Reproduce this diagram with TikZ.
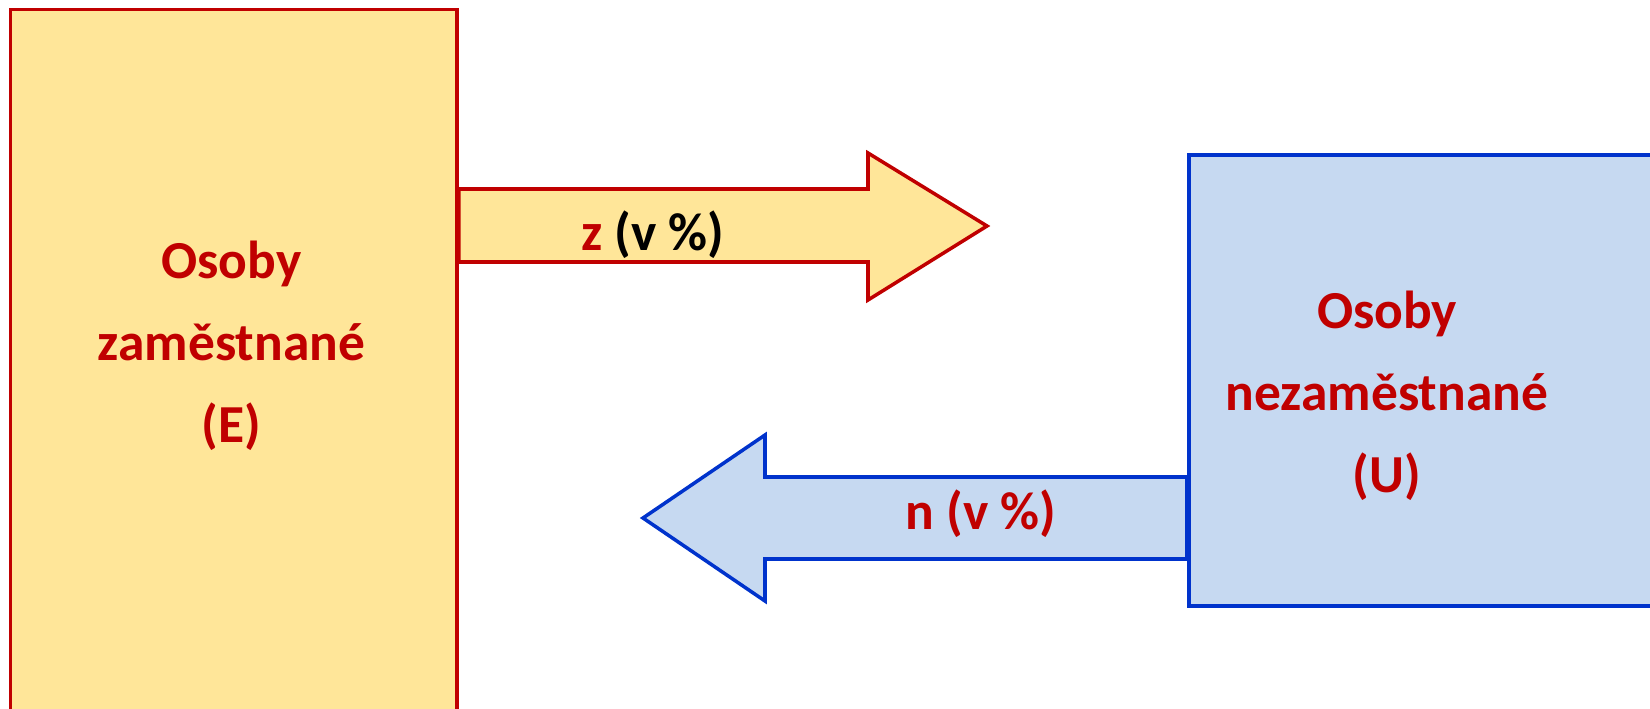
\documentclass[tikz,border=0pt]{standalone}
\usepackage{fontspec}
\setmainfont{Carlito}
\usepackage{xcolor}
\usetikzlibrary{positioning}
\definecolor{boxred}{HTML}{C00000}
\definecolor{boxblue}{HTML}{0033CC}
\definecolor{fillgold}{HTML}{FFE699}
\definecolor{fillsky}{HTML}{C6D9F1}

\begin{document}
\begin{tikzpicture}[x=0.01cm, y=-0.01cm,
  empbox/.style={rectangle, draw=boxred, fill=fillgold, line width=1pt, anchor=north west, inner sep=0pt},
  unembox/.style={rectangle, draw=boxblue, fill=fillsky, line width=1pt, anchor=north west, inner sep=0pt},
  zarrow/.style={draw=boxred, fill=fillgold, line width=1pt, line join=miter},
  narrow/.style={draw=boxblue, fill=fillsky, line width=1pt, line join=miter},
  boxtext/.style={text=boxred, align=center, font=\fontsize{15.2}{23.4}\selectfont\bfseries},
  arrowtext/.style={inner sep=0pt, font=\fontsize{15.2}{18}\selectfont\bfseries}]
\useasboundingbox (0,0) rectangle (1650,709);
\clip (0,0) rectangle (1650,709);

% Employed
\node[empbox, minimum width=4.465cm, minimum height=7.1cm] (E) at (8.5,7.5) {};
\node[boxtext] (Etext) at (231.5,346) {Osoby\\zaměstnané\\(E)};

% Unemployed
\node[unembox, minimum width=4.8cm, minimum height=4.51cm] (U) at (1187,153) {};
\node[boxtext] (Utext) at (1387,396) {Osoby\\nezaměstnané\\(U)};

% z: E -> U
\coordinate (ztip) at (987,226);
\draw[zarrow] (E.east |- 0,189) -- (868,189) -- (868,153) -- (ztip)
  -- (868,300) -- (868,262) -- (E.east |- 0,262) -- cycle;
\node[arrowtext] (zlab) at (653,235) {\textcolor{boxred}{z} (v \%)};

% n: U -> E
\coordinate (ntip) at (643,518);
\draw[narrow] (U.west |- 0,477) -- (765,477) -- (765,435) -- (ntip)
  -- (765,601) -- (765,559) -- (U.west |- 0,559) -- cycle;
\node[arrowtext, text=boxred] (nlab) at (981,514) {n (v \%)};
\end{tikzpicture}
\end{document}
